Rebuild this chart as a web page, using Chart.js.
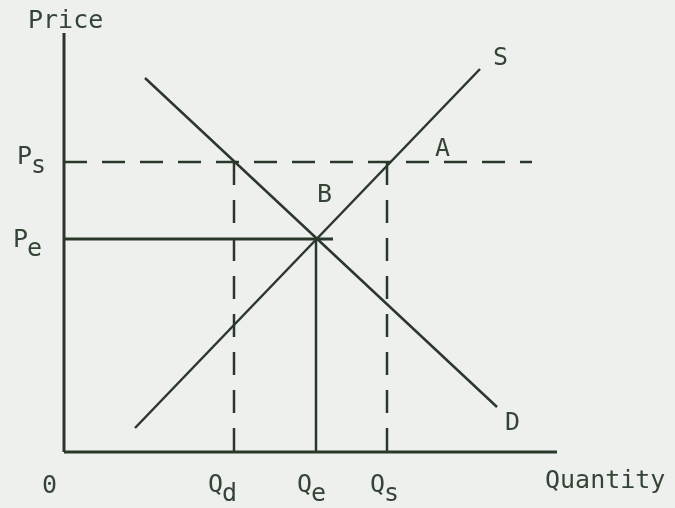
<!DOCTYPE html>
<html>
<head>
<meta charset="utf-8">
<script src="https://cdn.jsdelivr.net/npm/chart.js@4/dist/chart.umd.min.js"></script>
<style>
  html, body { margin: 0; padding: 0; background: #eef0ee; }
  #wrap { width: 675px; height: 508px; }
</style>
</head>
<body>
<div id="wrap"><canvas id="chart" width="675" height="508"></canvas></div>
<script>
// quantity / price levels (chart units)
var qd = 170, qe = 252, qs = 323;
var ps = 290, pe = 213;
var xMax = 493, yMax = 419;

// curves: [x, y] end points
var supplyX = [71, 416];
var supplyY = [24, 383];
var demandX = [81, 433];
var demandY = [374, 45];

// reference lines
var psLineEnd = 468;
var peLineEnd = 269;

var ink = "#2a382b";
var textInk = "#344535";

function pts(xs, ys) {
  return xs.map(function (x, i) { return { x: x, y: ys[i] }; });
}

// text labels, anchored at left/baseline in chart units
var labels = [
  { text: "Price", x: -36, y: 424 },
  { text: "P", sub: "s", x: -47, y: 288 },
  { text: "P", sub: "e", x: -51, y: 205 },
  { text: "A", x: 371, y: 296 },
  { text: "B", x: 253, y: 250 },
  { text: "S", x: 429, y: 387 },
  { text: "D", x: 441, y: 22 },
  { text: "0", x: -22, y: -41 },
  { text: "Q", sub: "d", x: 144, y: -40 },
  { text: "Q", sub: "e", x: 233, y: -40 },
  { text: "Q", sub: "s", x: 306, y: -40 },
  { text: "Quantity", x: 481, y: -36 }
];

var textPlugin = {
  id: "textLabels",
  afterDraw: function (chart) {
    var ctx = chart.ctx;
    var xs = chart.scales.x, ys = chart.scales.y;
    ctx.save();
    ctx.fillStyle = textInk;
    ctx.font = "25px 'DejaVu Sans Mono'";
    ctx.textBaseline = "alphabetic";
    ctx.textAlign = "left";
    labels.forEach(function (l) {
      var px = xs.getPixelForValue(l.x);
      var py = ys.getPixelForValue(l.y);
      ctx.fillText(l.text, px, py);
      if (l.sub) {
        var w = ctx.measureText(l.text).width;
        ctx.fillText(l.sub, px + w - 1, py + 9);
      }
    });
    ctx.restore();
  }
};

function line(data, dash, width) {
  return {
    data: data,
    showLine: true,
    borderColor: ink,
    borderWidth: width || 2.5,
    borderDash: dash || [],
    pointRadius: 0,
    fill: false,
    tension: 0,
    clip: false
  };
}

new Chart(document.getElementById("chart"), {
  type: "scatter",
  data: {
    datasets: [
      line(pts([0, 0], [0, yMax]), null, 3),
      line(pts([0, xMax], [0, 0]), null, 3),
      line(pts(supplyX, supplyY)),
      line(pts(demandX, demandY)),
      line(pts([0, psLineEnd], [ps, ps]), [23, 15]),
      line(pts([0, peLineEnd], [pe, pe]), null, 3),
      line(pts([qd, qd], [ps, 0]), [23, 15]),
      line(pts([qe, qe], [pe, 0])),
      line(pts([qs, qs], [ps, 0]), [23, 15])
    ]
  },
  options: {
    responsive: false,
    animation: false,
    layout: { padding: { left: 64, right: 118, top: 33, bottom: 56 } },
    plugins: {
      legend: { display: false },
      tooltip: { enabled: false }
    },
    scales: {
      x: { type: "linear", min: 0, max: xMax, display: false },
      y: { type: "linear", min: 0, max: yMax, display: false }
    }
  },
  plugins: [textPlugin]
});
</script>
</body>
</html>
